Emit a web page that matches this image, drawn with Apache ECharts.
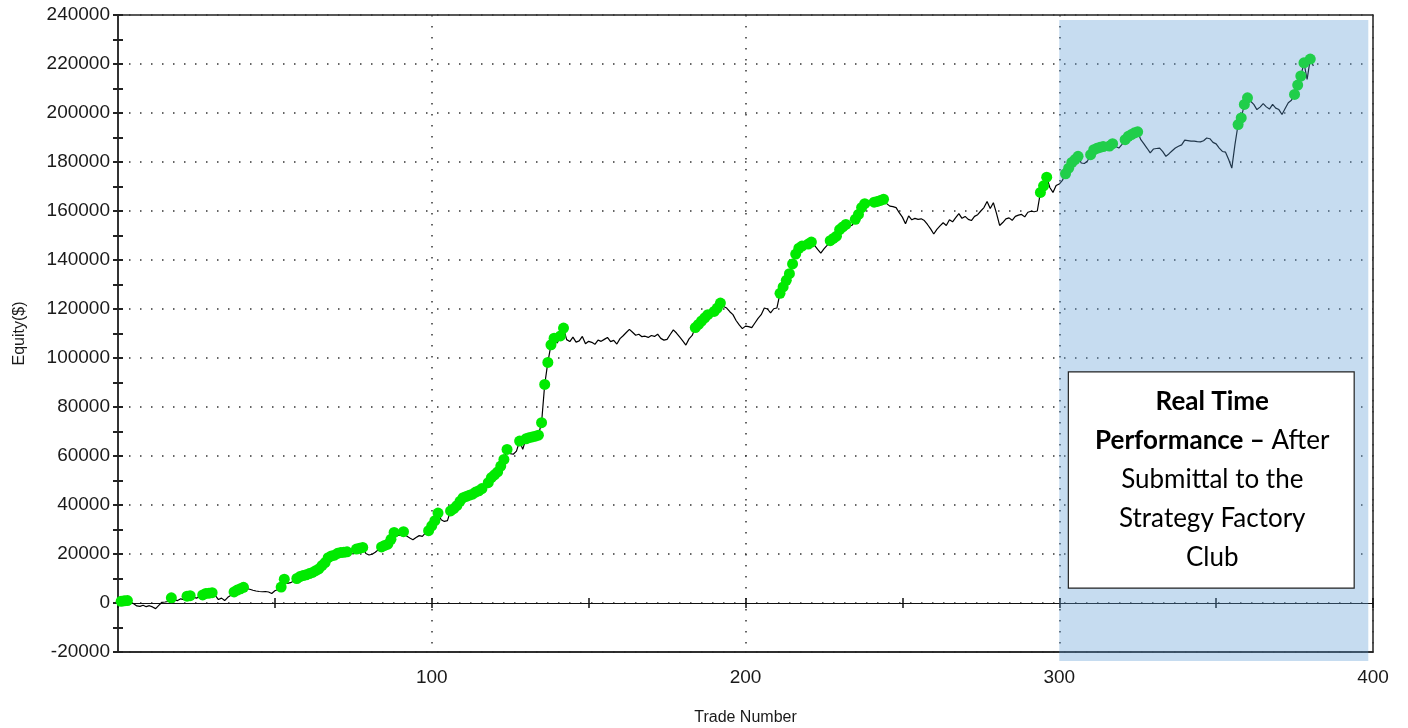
<!DOCTYPE html>
<html>
<head>
<meta charset="utf-8">
<title>Equity curve</title>
<script src="https://cdn.jsdelivr.net/npm/echarts@6/dist/echarts.min.js"></script>
<style>
  html, body { margin: 0; padding: 0; background: #fff; }
  #main { width: 1408px; height: 728px; }
</style>
</head>
<body>
<div id="main"></div>
<script>
// equity after each trade ($)
const equity = [
  700, 900, 1000, 400, -300, -1200, -1400, -900, -1500, -1100,
  -1600, -2300, -1000, 300, 400, 600, 2100, 1300, 1000, 1700,
  1400, 2800, 3000, 2400, 2000, 2600, 3300, 3900, 4000, 4200,
  3100, 1400, 2000, 1000, 2300, 3200, 4500, 5300, 5800, 6400,
  5900, 5600, 5200, 4900, 4700, 4600, 4700, 4500, 3900, 5000,
  5500, 6500, 9700, 8000, 8300, 9000, 10000, 10800, 11200, 11500,
  12000, 12500, 13200, 13900, 15300, 16500, 18500, 19200, 19500, 20300,
  20600, 20700, 20900, 20300, 20000, 22000, 22300, 22700, 20200, 19600,
  19900, 20700, 21800, 22900, 23500, 24000, 26000, 28800, 27500, 27800,
  29100, 27300, 26500, 25800, 26700, 27500, 27200, 28600, 29500, 31500,
  33600, 36700, 34000, 33300, 33600, 37600, 38500, 39700, 41500, 43000,
  43500, 44000, 44400, 45300, 45800, 46700, 45800, 49100, 51200, 52300,
  53500, 55900, 58600, 62700, 61000, 60700, 62000, 66100, 62700, 67000,
  67500, 67800, 68100, 68500, 73600, 89200, 98200, 105400, 108100, 106100,
  109000, 112200, 107500, 106700, 108500, 106500, 107000, 108800, 105800, 106800,
  106400, 105600, 107300, 106800, 107600, 108400, 106700, 107200, 105700, 107900,
  109100, 110400, 111700, 110500, 109300, 109700, 108700, 108900, 108400, 109200,
  108800, 109700, 108000, 107300, 107600, 109600, 111500, 110200, 108600, 107000,
  105300, 107800, 109200, 112400, 113700, 115100, 116400, 117700, 116500, 119000,
  120400, 122400, 121000, 120400, 118900, 117700, 115300, 113500, 112000, 113000,
  112800, 112400, 114300, 116200, 117700, 120400, 120000, 118400, 120100, 120400,
  126400, 129000, 131700, 134400, 138400, 142400, 144800, 145700, 144400, 146500,
  147300, 146000, 144300, 142800, 144500, 146000, 147900, 148800, 149700, 152400,
  153500, 154500, 153800, 154200, 156600, 158600, 161400, 163000, 162500, 162800,
  163600, 163900, 164300, 164800, 163000, 162000, 161800, 161400, 159300, 157500,
  154800, 158000, 156400, 157000, 156600, 156800, 156100, 154500, 152700, 150600,
  152500, 153900, 155200, 154100, 156400, 155600, 157300, 158900, 157000, 157800,
  156600, 156100, 157800, 158500, 160000, 161400, 163900, 161000, 163400, 159000,
  154100, 155300, 156800, 157200, 156200, 157800, 158300, 158600, 157600, 159500,
  159900, 159700, 160000, 167600, 170300, 173800, 169600, 167600, 170400, 171000,
  172500, 175200, 177500, 179800, 181000, 182300, 179600, 179400, 180400, 183000,
  185000, 185600, 186000, 186300, 185300, 186500, 187500, 186300, 185700, 187200,
  189100, 190500, 191200, 191900, 192300, 189100, 187400, 185600, 183700, 185300,
  185500, 185700, 184200, 182300, 183400, 184600, 185700, 186400, 187000, 188900,
  188700, 188500, 188500, 188300, 188200, 188700, 189800, 189500, 188000, 187400,
  185700, 184300, 184000, 181000, 177500, 187100, 195300, 198000, 203500, 206200,
  204800, 203500, 201400, 202400, 203800, 202500, 201600, 203500, 202000, 201400,
  199400, 201800, 204200, 205200, 207600, 211400, 215100, 220500, 213700, 222000,
  219200
];
const yTicks = { min: -20000, max: 240000, step: 20000 };
const xTicks = { min: 0, max: 400, step: 100 };
const realTimeStart = 300;
const noteLines = ['{b|Real Time}', '{b|Performance –} After', 'Submittal to the', 'Strategy Factory', 'Club'];

const chart = echarts.init(document.getElementById('main'));

const curve = equity.map((v, i) => [i + 1, v]);
// green dots = new equity highs
let peak = -Infinity;
const highs = [];
curve.forEach(p => {
  if (p[1] > peak) { highs.push(p); peak = p[1]; }
});

const dotted = { color: '#333', width: 1.5, type: [1.5, 9.5] };
const labelFont = { color: '#1a1a1a', fontFamily: 'Liberation Sans, Arial, sans-serif', fontSize: 19 };

const option = {
  animation: false,
  backgroundColor: '#fff',
  grid: {
    left: 118, right: 35, top: 15, bottom: 76,
    outerBoundsMode: 'none', containLabel: false,
    show: true, borderColor: '#222', borderWidth: 1.5
  },
  xAxis: [
    {
      type: 'value', min: xTicks.min, max: xTicks.max, interval: xTicks.step,
      name: 'Trade Number', nameLocation: 'middle', nameGap: 58,
      nameTextStyle: { ...labelFont, fontSize: 16 },
      axisLine: { onZero: false, lineStyle: { color: '#222', width: 1.5 } },
      axisTick: { show: false },
      axisLabel: { ...labelFont, margin: 16, showMinLabel: false },
      splitLine: { show: true, lineStyle: dotted }
    },
    {
      type: 'value', min: xTicks.min, max: xTicks.max, interval: 50,
      axisLine: { onZero: true, lineStyle: { color: '#111', width: 1 } },
      axisTick: { show: true, length: 5, lineStyle: { color: '#111', width: 1.5 } },
      axisLabel: { show: false }, splitLine: { show: false }
    },
    {
      type: 'value', min: xTicks.min, max: xTicks.max, interval: 50,
      axisLine: { onZero: true, lineStyle: { color: '#111', width: 1 } },
      axisTick: { show: true, inside: true, length: 5, lineStyle: { color: '#111', width: 1.5 } },
      axisLabel: { show: false }, splitLine: { show: false }
    }
  ],
  yAxis: [
    {
      type: 'value', position: 'left', min: yTicks.min, max: yTicks.max, interval: yTicks.step,
      name: 'Equity($)', nameLocation: 'middle', nameGap: 90,
      nameTextStyle: { ...labelFont, fontSize: 16 },
      axisLine: { show: true, onZero: false, lineStyle: { color: '#333', width: 2 } },
      axisTick: { show: true, length: 5, lineStyle: { color: '#222', width: 2 } },
      minorTick: { show: true, splitNumber: 2, length: 5, lineStyle: { color: '#222', width: 2 } },
      axisLabel: { ...labelFont, margin: 8, formatter: v => String(v) },
      splitLine: { show: true, lineStyle: dotted }
    },
    {
      type: 'value', position: 'left', offset: 0, min: yTicks.min, max: yTicks.max, interval: yTicks.step,
      axisLine: { show: false, onZero: false },
      axisTick: { show: true, inside: true, length: 5, lineStyle: { color: '#222', width: 2 } },
      minorTick: { show: true, splitNumber: 2, length: 5, lineStyle: { color: '#222', width: 2 } },
      axisLabel: { show: false }, splitLine: { show: false }
    }
  ],
  series: [
    {
      type: 'line', data: curve, showSymbol: false, z: 3,
      lineStyle: { color: '#000', width: 1.2 }
    },
    {
      type: 'scatter', data: highs, symbolSize: 11, z: 4,
      itemStyle: { color: '#00ea00', opacity: 1 }
    }
  ]
};
chart.setOption(option);

// shaded "real time" region and the note box, placed through the axes
const a = chart.convertToPixel({ gridIndex: 0 }, [realTimeStart, 238000]);
const b = chart.convertToPixel({ gridIndex: 0 }, [398.5, -23700]);
const c = chart.convertToPixel({ gridIndex: 0 }, [302.9, 94300]);
const d = chart.convertToPixel({ gridIndex: 0 }, [394, 6100]);
chart.setOption({
  graphic: [
    {
      type: 'rect', z: 50,
      shape: { x: a[0], y: a[1], width: b[0] - a[0], height: b[1] - a[1] },
      style: { fill: 'rgba(91,155,213,0.35)' }
    },
    {
      type: 'rect', z: 60,
      shape: { x: c[0], y: c[1], width: d[0] - c[0], height: d[1] - c[1] },
      style: { fill: '#fff', stroke: '#222', lineWidth: 1.2 }
    },
    {
      type: 'text', z: 61,
      x: (c[0] + d[0]) / 2 + 1, y: (c[1] + d[1]) / 2,
      style: {
        text: noteLines.join('\n'),
        align: 'center', verticalAlign: 'middle',
        fontFamily: 'Lato, sans-serif', fontSize: 26, lineHeight: 39, fill: '#000',
        rich: {
          b: { fontFamily: 'Lato, sans-serif', fontSize: 26, lineHeight: 39, fontWeight: 'bold', fill: '#000' }
        }
      }
    }
  ]
});
</script>
</body>
</html>
